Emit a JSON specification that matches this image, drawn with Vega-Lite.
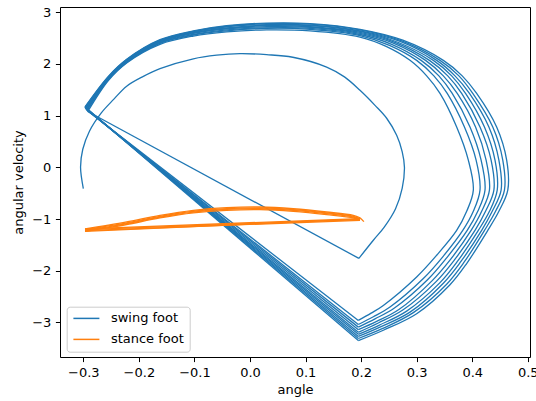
{
"$schema": "https://vega.github.io/schema/vega-lite/v6.json",
"width": 470, "height": 350,
"autosize": {"type": "none"},
"padding": {"left": 60, "top": 7, "right": 6, "bottom": 44},
"background": "white",
"config": {
  "font": "DejaVu Sans",
  "view": {"stroke": "black", "strokeWidth": 1},
  "axis": {"grid": false, "domain": false, "labelFont": "DejaVu Sans", "labelFontSize": 13, "labelColor": "#000", "tickColor": "#000", "tickSize": 4.6, "tickWidth": 1, "titleFont": "DejaVu Sans", "titleFontSize": 13, "titleFontWeight": "normal", "titleColor": "#000"}
},
"data": {"values": [
{"series":"swing foot","segment":"s0","phase":"flight","angle":-0.300,"velocity":-0.41},
{"series":"swing foot","segment":"s0","phase":"flight","angle":-0.305,"velocity":0.00},
{"series":"swing foot","segment":"s0","phase":"flight","angle":-0.301,"velocity":0.35},
{"series":"swing foot","segment":"s0","phase":"flight","angle":-0.289,"velocity":0.70},
{"series":"swing foot","segment":"s0","phase":"flight","angle":-0.268,"velocity":1.05},
{"series":"swing foot","segment":"s0","phase":"flight","angle":-0.245,"velocity":1.32},
{"series":"swing foot","segment":"s0","phase":"flight","angle":-0.222,"velocity":1.57},
{"series":"swing foot","segment":"s0","phase":"flight","angle":-0.192,"velocity":1.76},
{"series":"swing foot","segment":"s0","phase":"flight","angle":-0.162,"velocity":1.91},
{"series":"swing foot","segment":"s0","phase":"flight","angle":-0.102,"velocity":2.10},
{"series":"swing foot","segment":"s0","phase":"flight","angle":-0.060,"velocity":2.17},
{"series":"swing foot","segment":"s0","phase":"flight","angle":-0.018,"velocity":2.20},
{"series":"swing foot","segment":"s0","phase":"flight","angle":0.030,"velocity":2.18},
{"series":"swing foot","segment":"s0","phase":"flight","angle":0.077,"velocity":2.13},
{"series":"swing foot","segment":"s0","phase":"flight","angle":0.138,"velocity":1.94},
{"series":"swing foot","segment":"s0","phase":"flight","angle":0.170,"velocity":1.75},
{"series":"swing foot","segment":"s0","phase":"flight","angle":0.198,"velocity":1.49},
{"series":"swing foot","segment":"s0","phase":"flight","angle":0.225,"velocity":1.20},
{"series":"swing foot","segment":"s0","phase":"flight","angle":0.246,"velocity":0.95},
{"series":"swing foot","segment":"s0","phase":"flight","angle":0.264,"velocity":0.62},
{"series":"swing foot","segment":"s0","phase":"flight","angle":0.274,"velocity":0.30},
{"series":"swing foot","segment":"s0","phase":"flight","angle":0.278,"velocity":0.00},
{"series":"swing foot","segment":"s0","phase":"flight","angle":0.274,"velocity":-0.40},
{"series":"swing foot","segment":"s0","phase":"flight","angle":0.262,"velocity":-0.80},
{"series":"swing foot","segment":"s0","phase":"flight","angle":0.242,"velocity":-1.15},
{"series":"swing foot","segment":"s0","phase":"flight","angle":0.222,"velocity":-1.41},
{"series":"swing foot","segment":"s0","phase":"flight","angle":0.196,"velocity":-1.76},
{"series":"swing foot","segment":"j1","phase":"impact","angle":0.196,"velocity":-1.76},
{"series":"swing foot","segment":"j1","phase":"impact","angle":-0.292,"velocity":1.08},

{"series":"swing foot","segment":"s1","phase":"flight","angle":-0.292,"velocity":1.08},
{"series":"swing foot","segment":"s1","phase":"flight","angle":-0.255,"velocity":1.68},
{"series":"swing foot","segment":"s1","phase":"flight","angle":-0.222,"velocity":2.02},
{"series":"swing foot","segment":"s1","phase":"flight","angle":-0.162,"velocity":2.38},
{"series":"swing foot","segment":"s1","phase":"flight","angle":-0.102,"velocity":2.54},
{"series":"swing foot","segment":"s1","phase":"flight","angle":-0.042,"velocity":2.62},
{"series":"swing foot","segment":"s1","phase":"flight","angle":0.030,"velocity":2.66},
{"series":"swing foot","segment":"s1","phase":"flight","angle":0.108,"velocity":2.64},
{"series":"swing foot","segment":"s1","phase":"flight","angle":0.198,"velocity":2.52},
{"series":"swing foot","segment":"s1","phase":"flight","angle":0.245,"velocity":2.34},
{"series":"swing foot","segment":"s1","phase":"flight","angle":0.288,"velocity":2.07},
{"series":"swing foot","segment":"s1","phase":"flight","angle":0.318,"velocity":1.77},
{"series":"swing foot","segment":"s1","phase":"flight","angle":0.342,"velocity":1.43},
{"series":"swing foot","segment":"s1","phase":"flight","angle":0.372,"velocity":0.78},
{"series":"swing foot","segment":"s1","phase":"flight","angle":0.393,"velocity":0.14},
{"series":"swing foot","segment":"s1","phase":"flight","angle":0.402,"velocity":-0.44},
{"series":"swing foot","segment":"s1","phase":"flight","angle":0.390,"velocity":-0.85},
{"series":"swing foot","segment":"s1","phase":"flight","angle":0.372,"velocity":-1.22},
{"series":"swing foot","segment":"s1","phase":"flight","angle":0.336,"velocity":-1.70},
{"series":"swing foot","segment":"s1","phase":"flight","angle":0.300,"velocity":-2.12},
{"series":"swing foot","segment":"s1","phase":"flight","angle":0.240,"velocity":-2.67},
{"series":"swing foot","segment":"s1","phase":"flight","angle":0.218,"velocity":-2.82},
{"series":"swing foot","segment":"s1","phase":"flight","angle":0.195,"velocity":-2.96},
{"series":"swing foot","segment":"j2","phase":"impact","angle":0.195,"velocity":-2.96},
{"series":"swing foot","segment":"j2","phase":"impact","angle":-0.293,"velocity":1.10},

{"series":"swing foot","segment":"s2","phase":"flight","angle":-0.293,"velocity":1.10},
{"series":"swing foot","segment":"s2","phase":"flight","angle":-0.255,"velocity":1.70},
{"series":"swing foot","segment":"s2","phase":"flight","angle":-0.222,"velocity":2.03},
{"series":"swing foot","segment":"s2","phase":"flight","angle":-0.162,"velocity":2.40},
{"series":"swing foot","segment":"s2","phase":"flight","angle":-0.102,"velocity":2.56},
{"series":"swing foot","segment":"s2","phase":"flight","angle":-0.042,"velocity":2.64},
{"series":"swing foot","segment":"s2","phase":"flight","angle":0.030,"velocity":2.69},
{"series":"swing foot","segment":"s2","phase":"flight","angle":0.108,"velocity":2.67},
{"series":"swing foot","segment":"s2","phase":"flight","angle":0.198,"velocity":2.55},
{"series":"swing foot","segment":"s2","phase":"flight","angle":0.251,"velocity":2.36},
{"series":"swing foot","segment":"s2","phase":"flight","angle":0.300,"velocity":2.07},
{"series":"swing foot","segment":"s2","phase":"flight","angle":0.331,"velocity":1.77},
{"series":"swing foot","segment":"s2","phase":"flight","angle":0.355,"velocity":1.43},
{"series":"swing foot","segment":"s2","phase":"flight","angle":0.386,"velocity":0.78},
{"series":"swing foot","segment":"s2","phase":"flight","angle":0.407,"velocity":0.14},
{"series":"swing foot","segment":"s2","phase":"flight","angle":0.414,"velocity":-0.44},
{"series":"swing foot","segment":"s2","phase":"flight","angle":0.402,"velocity":-0.85},
{"series":"swing foot","segment":"s2","phase":"flight","angle":0.383,"velocity":-1.22},
{"series":"swing foot","segment":"s2","phase":"flight","angle":0.347,"velocity":-1.73},
{"series":"swing foot","segment":"s2","phase":"flight","angle":0.312,"velocity":-2.15},
{"series":"swing foot","segment":"s2","phase":"flight","angle":0.252,"velocity":-2.70},
{"series":"swing foot","segment":"s2","phase":"flight","angle":0.222,"velocity":-2.89},
{"series":"swing foot","segment":"s2","phase":"flight","angle":0.195,"velocity":-3.04},
{"series":"swing foot","segment":"j3","phase":"impact","angle":0.195,"velocity":-3.04},
{"series":"swing foot","segment":"j3","phase":"impact","angle":-0.294,"velocity":1.11},

{"series":"swing foot","segment":"s3","phase":"flight","angle":-0.294,"velocity":1.11},
{"series":"swing foot","segment":"s3","phase":"flight","angle":-0.255,"velocity":1.71},
{"series":"swing foot","segment":"s3","phase":"flight","angle":-0.222,"velocity":2.04},
{"series":"swing foot","segment":"s3","phase":"flight","angle":-0.162,"velocity":2.41},
{"series":"swing foot","segment":"s3","phase":"flight","angle":-0.102,"velocity":2.57},
{"series":"swing foot","segment":"s3","phase":"flight","angle":-0.042,"velocity":2.66},
{"series":"swing foot","segment":"s3","phase":"flight","angle":0.030,"velocity":2.70},
{"series":"swing foot","segment":"s3","phase":"flight","angle":0.108,"velocity":2.69},
{"series":"swing foot","segment":"s3","phase":"flight","angle":0.198,"velocity":2.57},
{"series":"swing foot","segment":"s3","phase":"flight","angle":0.255,"velocity":2.38},
{"series":"swing foot","segment":"s3","phase":"flight","angle":0.308,"velocity":2.07},
{"series":"swing foot","segment":"s3","phase":"flight","angle":0.340,"velocity":1.77},
{"series":"swing foot","segment":"s3","phase":"flight","angle":0.364,"velocity":1.43},
{"series":"swing foot","segment":"s3","phase":"flight","angle":0.396,"velocity":0.78},
{"series":"swing foot","segment":"s3","phase":"flight","angle":0.416,"velocity":0.14},
{"series":"swing foot","segment":"s3","phase":"flight","angle":0.423,"velocity":-0.44},
{"series":"swing foot","segment":"s3","phase":"flight","angle":0.410,"velocity":-0.85},
{"series":"swing foot","segment":"s3","phase":"flight","angle":0.391,"velocity":-1.22},
{"series":"swing foot","segment":"s3","phase":"flight","angle":0.354,"velocity":-1.75},
{"series":"swing foot","segment":"s3","phase":"flight","angle":0.320,"velocity":-2.17},
{"series":"swing foot","segment":"s3","phase":"flight","angle":0.260,"velocity":-2.72},
{"series":"swing foot","segment":"s3","phase":"flight","angle":0.225,"velocity":-2.93},
{"series":"swing foot","segment":"s3","phase":"flight","angle":0.195,"velocity":-3.09},
{"series":"swing foot","segment":"j4","phase":"impact","angle":0.195,"velocity":-3.09},
{"series":"swing foot","segment":"j4","phase":"impact","angle":-0.294,"velocity":1.12},

{"series":"swing foot","segment":"s4","phase":"flight","angle":-0.294,"velocity":1.12},
{"series":"swing foot","segment":"s4","phase":"flight","angle":-0.255,"velocity":1.72},
{"series":"swing foot","segment":"s4","phase":"flight","angle":-0.222,"velocity":2.05},
{"series":"swing foot","segment":"s4","phase":"flight","angle":-0.162,"velocity":2.42},
{"series":"swing foot","segment":"s4","phase":"flight","angle":-0.102,"velocity":2.59},
{"series":"swing foot","segment":"s4","phase":"flight","angle":-0.042,"velocity":2.68},
{"series":"swing foot","segment":"s4","phase":"flight","angle":0.030,"velocity":2.72},
{"series":"swing foot","segment":"s4","phase":"flight","angle":0.108,"velocity":2.71},
{"series":"swing foot","segment":"s4","phase":"flight","angle":0.198,"velocity":2.59},
{"series":"swing foot","segment":"s4","phase":"flight","angle":0.259,"velocity":2.40},
{"series":"swing foot","segment":"s4","phase":"flight","angle":0.316,"velocity":2.07},
{"series":"swing foot","segment":"s4","phase":"flight","angle":0.348,"velocity":1.77},
{"series":"swing foot","segment":"s4","phase":"flight","angle":0.373,"velocity":1.43},
{"series":"swing foot","segment":"s4","phase":"flight","angle":0.406,"velocity":0.78},
{"series":"swing foot","segment":"s4","phase":"flight","angle":0.425,"velocity":0.14},
{"series":"swing foot","segment":"s4","phase":"flight","angle":0.431,"velocity":-0.44},
{"series":"swing foot","segment":"s4","phase":"flight","angle":0.417,"velocity":-0.85},
{"series":"swing foot","segment":"s4","phase":"flight","angle":0.398,"velocity":-1.22},
{"series":"swing foot","segment":"s4","phase":"flight","angle":0.361,"velocity":-1.78},
{"series":"swing foot","segment":"s4","phase":"flight","angle":0.328,"velocity":-2.19},
{"series":"swing foot","segment":"s4","phase":"flight","angle":0.268,"velocity":-2.75},
{"series":"swing foot","segment":"s4","phase":"flight","angle":0.228,"velocity":-2.98},
{"series":"swing foot","segment":"s4","phase":"flight","angle":0.195,"velocity":-3.14},
{"series":"swing foot","segment":"j5","phase":"impact","angle":0.195,"velocity":-3.14},
{"series":"swing foot","segment":"j5","phase":"impact","angle":-0.295,"velocity":1.13},

{"series":"swing foot","segment":"s5","phase":"flight","angle":-0.295,"velocity":1.13},
{"series":"swing foot","segment":"s5","phase":"flight","angle":-0.255,"velocity":1.73},
{"series":"swing foot","segment":"s5","phase":"flight","angle":-0.222,"velocity":2.06},
{"series":"swing foot","segment":"s5","phase":"flight","angle":-0.162,"velocity":2.43},
{"series":"swing foot","segment":"s5","phase":"flight","angle":-0.102,"velocity":2.60},
{"series":"swing foot","segment":"s5","phase":"flight","angle":-0.042,"velocity":2.69},
{"series":"swing foot","segment":"s5","phase":"flight","angle":0.030,"velocity":2.74},
{"series":"swing foot","segment":"s5","phase":"flight","angle":0.108,"velocity":2.72},
{"series":"swing foot","segment":"s5","phase":"flight","angle":0.198,"velocity":2.61},
{"series":"swing foot","segment":"s5","phase":"flight","angle":0.263,"velocity":2.41},
{"series":"swing foot","segment":"s5","phase":"flight","angle":0.323,"velocity":2.07},
{"series":"swing foot","segment":"s5","phase":"flight","angle":0.356,"velocity":1.77},
{"series":"swing foot","segment":"s5","phase":"flight","angle":0.381,"velocity":1.43},
{"series":"swing foot","segment":"s5","phase":"flight","angle":0.414,"velocity":0.78},
{"series":"swing foot","segment":"s5","phase":"flight","angle":0.434,"velocity":0.14},
{"series":"swing foot","segment":"s5","phase":"flight","angle":0.439,"velocity":-0.44},
{"series":"swing foot","segment":"s5","phase":"flight","angle":0.424,"velocity":-0.85},
{"series":"swing foot","segment":"s5","phase":"flight","angle":0.405,"velocity":-1.22},
{"series":"swing foot","segment":"s5","phase":"flight","angle":0.368,"velocity":-1.79},
{"series":"swing foot","segment":"s5","phase":"flight","angle":0.335,"velocity":-2.21},
{"series":"swing foot","segment":"s5","phase":"flight","angle":0.275,"velocity":-2.76},
{"series":"swing foot","segment":"s5","phase":"flight","angle":0.231,"velocity":-3.01},
{"series":"swing foot","segment":"s5","phase":"flight","angle":0.195,"velocity":-3.19},
{"series":"swing foot","segment":"j6","phase":"impact","angle":0.195,"velocity":-3.19},
{"series":"swing foot","segment":"j6","phase":"impact","angle":-0.296,"velocity":1.14},

{"series":"swing foot","segment":"s6","phase":"flight","angle":-0.296,"velocity":1.14},
{"series":"swing foot","segment":"s6","phase":"flight","angle":-0.255,"velocity":1.74},
{"series":"swing foot","segment":"s6","phase":"flight","angle":-0.222,"velocity":2.07},
{"series":"swing foot","segment":"s6","phase":"flight","angle":-0.162,"velocity":2.44},
{"series":"swing foot","segment":"s6","phase":"flight","angle":-0.102,"velocity":2.61},
{"series":"swing foot","segment":"s6","phase":"flight","angle":-0.042,"velocity":2.70},
{"series":"swing foot","segment":"s6","phase":"flight","angle":0.030,"velocity":2.75},
{"series":"swing foot","segment":"s6","phase":"flight","angle":0.108,"velocity":2.74},
{"series":"swing foot","segment":"s6","phase":"flight","angle":0.198,"velocity":2.63},
{"series":"swing foot","segment":"s6","phase":"flight","angle":0.266,"velocity":2.42},
{"series":"swing foot","segment":"s6","phase":"flight","angle":0.330,"velocity":2.07},
{"series":"swing foot","segment":"s6","phase":"flight","angle":0.363,"velocity":1.77},
{"series":"swing foot","segment":"s6","phase":"flight","angle":0.388,"velocity":1.43},
{"series":"swing foot","segment":"s6","phase":"flight","angle":0.422,"velocity":0.78},
{"series":"swing foot","segment":"s6","phase":"flight","angle":0.441,"velocity":0.14},
{"series":"swing foot","segment":"s6","phase":"flight","angle":0.445,"velocity":-0.44},
{"series":"swing foot","segment":"s6","phase":"flight","angle":0.431,"velocity":-0.85},
{"series":"swing foot","segment":"s6","phase":"flight","angle":0.411,"velocity":-1.22},
{"series":"swing foot","segment":"s6","phase":"flight","angle":0.374,"velocity":-1.81},
{"series":"swing foot","segment":"s6","phase":"flight","angle":0.342,"velocity":-2.23},
{"series":"swing foot","segment":"s6","phase":"flight","angle":0.282,"velocity":-2.78},
{"series":"swing foot","segment":"s6","phase":"flight","angle":0.233,"velocity":-3.05},
{"series":"swing foot","segment":"s6","phase":"flight","angle":0.195,"velocity":-3.23},
{"series":"swing foot","segment":"j7","phase":"impact","angle":0.195,"velocity":-3.23},
{"series":"swing foot","segment":"j7","phase":"impact","angle":-0.296,"velocity":1.15},

{"series":"swing foot","segment":"s7","phase":"flight","angle":-0.296,"velocity":1.15},
{"series":"swing foot","segment":"s7","phase":"flight","angle":-0.255,"velocity":1.74},
{"series":"swing foot","segment":"s7","phase":"flight","angle":-0.222,"velocity":2.08},
{"series":"swing foot","segment":"s7","phase":"flight","angle":-0.162,"velocity":2.45},
{"series":"swing foot","segment":"s7","phase":"flight","angle":-0.102,"velocity":2.62},
{"series":"swing foot","segment":"s7","phase":"flight","angle":-0.042,"velocity":2.72},
{"series":"swing foot","segment":"s7","phase":"flight","angle":0.030,"velocity":2.76},
{"series":"swing foot","segment":"s7","phase":"flight","angle":0.108,"velocity":2.75},
{"series":"swing foot","segment":"s7","phase":"flight","angle":0.198,"velocity":2.64},
{"series":"swing foot","segment":"s7","phase":"flight","angle":0.269,"velocity":2.44},
{"series":"swing foot","segment":"s7","phase":"flight","angle":0.336,"velocity":2.07},
{"series":"swing foot","segment":"s7","phase":"flight","angle":0.369,"velocity":1.77},
{"series":"swing foot","segment":"s7","phase":"flight","angle":0.395,"velocity":1.43},
{"series":"swing foot","segment":"s7","phase":"flight","angle":0.430,"velocity":0.78},
{"series":"swing foot","segment":"s7","phase":"flight","angle":0.448,"velocity":0.14},
{"series":"swing foot","segment":"s7","phase":"flight","angle":0.452,"velocity":-0.44},
{"series":"swing foot","segment":"s7","phase":"flight","angle":0.436,"velocity":-0.85},
{"series":"swing foot","segment":"s7","phase":"flight","angle":0.417,"velocity":-1.22},
{"series":"swing foot","segment":"s7","phase":"flight","angle":0.379,"velocity":-1.83},
{"series":"swing foot","segment":"s7","phase":"flight","angle":0.348,"velocity":-2.24},
{"series":"swing foot","segment":"s7","phase":"flight","angle":0.288,"velocity":-2.80},
{"series":"swing foot","segment":"s7","phase":"flight","angle":0.236,"velocity":-3.08},
{"series":"swing foot","segment":"s7","phase":"flight","angle":0.195,"velocity":-3.27},
{"series":"swing foot","segment":"j8","phase":"impact","angle":0.195,"velocity":-3.27},
{"series":"swing foot","segment":"j8","phase":"impact","angle":-0.297,"velocity":1.16},

{"series":"swing foot","segment":"s8","phase":"flight","angle":-0.297,"velocity":1.16},
{"series":"swing foot","segment":"s8","phase":"flight","angle":-0.255,"velocity":1.75},
{"series":"swing foot","segment":"s8","phase":"flight","angle":-0.222,"velocity":2.08},
{"series":"swing foot","segment":"s8","phase":"flight","angle":-0.162,"velocity":2.46},
{"series":"swing foot","segment":"s8","phase":"flight","angle":-0.102,"velocity":2.63},
{"series":"swing foot","segment":"s8","phase":"flight","angle":-0.042,"velocity":2.73},
{"series":"swing foot","segment":"s8","phase":"flight","angle":0.030,"velocity":2.78},
{"series":"swing foot","segment":"s8","phase":"flight","angle":0.108,"velocity":2.77},
{"series":"swing foot","segment":"s8","phase":"flight","angle":0.198,"velocity":2.66},
{"series":"swing foot","segment":"s8","phase":"flight","angle":0.272,"velocity":2.45},
{"series":"swing foot","segment":"s8","phase":"flight","angle":0.342,"velocity":2.07},
{"series":"swing foot","segment":"s8","phase":"flight","angle":0.376,"velocity":1.77},
{"series":"swing foot","segment":"s8","phase":"flight","angle":0.401,"velocity":1.43},
{"series":"swing foot","segment":"s8","phase":"flight","angle":0.437,"velocity":0.78},
{"series":"swing foot","segment":"s8","phase":"flight","angle":0.455,"velocity":0.14},
{"series":"swing foot","segment":"s8","phase":"flight","angle":0.458,"velocity":-0.44},
{"series":"swing foot","segment":"s8","phase":"flight","angle":0.442,"velocity":-0.85},
{"series":"swing foot","segment":"s8","phase":"flight","angle":0.422,"velocity":-1.22},
{"series":"swing foot","segment":"s8","phase":"flight","angle":0.385,"velocity":-1.84},
{"series":"swing foot","segment":"s8","phase":"flight","angle":0.354,"velocity":-2.26},
{"series":"swing foot","segment":"s8","phase":"flight","angle":0.294,"velocity":-2.81},
{"series":"swing foot","segment":"s8","phase":"flight","angle":0.238,"velocity":-3.12},
{"series":"swing foot","segment":"s8","phase":"flight","angle":0.195,"velocity":-3.31},
{"series":"swing foot","segment":"j9","phase":"impact","angle":0.195,"velocity":-3.31},
{"series":"swing foot","segment":"j9","phase":"impact","angle":-0.297,"velocity":1.17},

{"series":"swing foot","segment":"s9","phase":"flight","angle":-0.297,"velocity":1.17},
{"series":"swing foot","segment":"s9","phase":"flight","angle":-0.255,"velocity":1.76},
{"series":"swing foot","segment":"s9","phase":"flight","angle":-0.222,"velocity":2.09},
{"series":"swing foot","segment":"s9","phase":"flight","angle":-0.162,"velocity":2.47},
{"series":"swing foot","segment":"s9","phase":"flight","angle":-0.102,"velocity":2.64},
{"series":"swing foot","segment":"s9","phase":"flight","angle":-0.042,"velocity":2.74},
{"series":"swing foot","segment":"s9","phase":"flight","angle":0.030,"velocity":2.79},
{"series":"swing foot","segment":"s9","phase":"flight","angle":0.108,"velocity":2.78},
{"series":"swing foot","segment":"s9","phase":"flight","angle":0.198,"velocity":2.67},
{"series":"swing foot","segment":"s9","phase":"flight","angle":0.275,"velocity":2.46},
{"series":"swing foot","segment":"s9","phase":"flight","angle":0.348,"velocity":2.07},
{"series":"swing foot","segment":"s9","phase":"flight","angle":0.382,"velocity":1.77},
{"series":"swing foot","segment":"s9","phase":"flight","angle":0.408,"velocity":1.43},
{"series":"swing foot","segment":"s9","phase":"flight","angle":0.444,"velocity":0.78},
{"series":"swing foot","segment":"s9","phase":"flight","angle":0.462,"velocity":0.14},
{"series":"swing foot","segment":"s9","phase":"flight","angle":0.464,"velocity":-0.44},
{"series":"swing foot","segment":"s9","phase":"flight","angle":0.448,"velocity":-0.85},
{"series":"swing foot","segment":"s9","phase":"flight","angle":0.428,"velocity":-1.22},
{"series":"swing foot","segment":"s9","phase":"flight","angle":0.390,"velocity":-1.86},
{"series":"swing foot","segment":"s9","phase":"flight","angle":0.360,"velocity":-2.27},
{"series":"swing foot","segment":"s9","phase":"flight","angle":0.300,"velocity":-2.83},
{"series":"swing foot","segment":"s9","phase":"flight","angle":0.240,"velocity":-3.15},
{"series":"swing foot","segment":"s9","phase":"flight","angle":0.195,"velocity":-3.35},
{"series":"swing foot","segment":"j10","phase":"impact","angle":0.195,"velocity":-3.35},
{"series":"swing foot","segment":"j10","phase":"impact","angle":-0.297,"velocity":1.17},

{"series":"stance foot","segment":"u0","phase":"impact","angle":0.205,"velocity":-1.050},
{"series":"stance foot","segment":"u0","phase":"impact","angle":0.198,"velocity":-0.975},
{"series":"stance foot","segment":"t1","phase":"flight","angle":0.198,"velocity":-0.975},
{"series":"stance foot","segment":"t1","phase":"flight","angle":0.186,"velocity":-0.929},
{"series":"stance foot","segment":"t1","phase":"flight","angle":0.138,"velocity":-0.863},
{"series":"stance foot","segment":"t1","phase":"flight","angle":0.078,"velocity":-0.800},
{"series":"stance foot","segment":"t1","phase":"flight","angle":0.018,"velocity":-0.767},
{"series":"stance foot","segment":"t1","phase":"flight","angle":-0.042,"velocity":-0.780},
{"series":"stance foot","segment":"t1","phase":"flight","angle":-0.102,"velocity":-0.832},
{"series":"stance foot","segment":"t1","phase":"flight","angle":-0.162,"velocity":-0.929},
{"series":"stance foot","segment":"t1","phase":"flight","angle":-0.222,"velocity":-1.055},
{"series":"stance foot","segment":"t1","phase":"flight","angle":-0.260,"velocity":-1.125},
{"series":"stance foot","segment":"t1","phase":"flight","angle":-0.297,"velocity":-1.189},
{"series":"stance foot","segment":"u1","phase":"impact","angle":-0.297,"velocity":-1.189},
{"series":"stance foot","segment":"u1","phase":"impact","angle":0.198,"velocity":-0.992},
{"series":"stance foot","segment":"t2","phase":"flight","angle":0.198,"velocity":-0.992},
{"series":"stance foot","segment":"t2","phase":"flight","angle":0.186,"velocity":-0.946},
{"series":"stance foot","segment":"t2","phase":"flight","angle":0.138,"velocity":-0.880},
{"series":"stance foot","segment":"t2","phase":"flight","angle":0.078,"velocity":-0.817},
{"series":"stance foot","segment":"t2","phase":"flight","angle":0.018,"velocity":-0.784},
{"series":"stance foot","segment":"t2","phase":"flight","angle":-0.042,"velocity":-0.797},
{"series":"stance foot","segment":"t2","phase":"flight","angle":-0.102,"velocity":-0.849},
{"series":"stance foot","segment":"t2","phase":"flight","angle":-0.162,"velocity":-0.946},
{"series":"stance foot","segment":"t2","phase":"flight","angle":-0.222,"velocity":-1.072},
{"series":"stance foot","segment":"t2","phase":"flight","angle":-0.260,"velocity":-1.142},
{"series":"stance foot","segment":"t2","phase":"flight","angle":-0.297,"velocity":-1.206},
{"series":"stance foot","segment":"u2","phase":"impact","angle":-0.297,"velocity":-1.206},
{"series":"stance foot","segment":"u2","phase":"impact","angle":0.198,"velocity":-1.008},
{"series":"stance foot","segment":"t3","phase":"flight","angle":0.198,"velocity":-1.008},
{"series":"stance foot","segment":"t3","phase":"flight","angle":0.186,"velocity":-0.962},
{"series":"stance foot","segment":"t3","phase":"flight","angle":0.138,"velocity":-0.896},
{"series":"stance foot","segment":"t3","phase":"flight","angle":0.078,"velocity":-0.833},
{"series":"stance foot","segment":"t3","phase":"flight","angle":0.018,"velocity":-0.800},
{"series":"stance foot","segment":"t3","phase":"flight","angle":-0.042,"velocity":-0.813},
{"series":"stance foot","segment":"t3","phase":"flight","angle":-0.102,"velocity":-0.865},
{"series":"stance foot","segment":"t3","phase":"flight","angle":-0.162,"velocity":-0.962},
{"series":"stance foot","segment":"t3","phase":"flight","angle":-0.222,"velocity":-1.088},
{"series":"stance foot","segment":"t3","phase":"flight","angle":-0.260,"velocity":-1.158},
{"series":"stance foot","segment":"t3","phase":"flight","angle":-0.297,"velocity":-1.222},
{"series":"stance foot","segment":"u3","phase":"impact","angle":-0.297,"velocity":-1.222},
{"series":"stance foot","segment":"u3","phase":"impact","angle":0.198,"velocity":-1.025},
{"series":"stance foot","segment":"t4","phase":"flight","angle":0.198,"velocity":-1.025},
{"series":"stance foot","segment":"t4","phase":"flight","angle":0.186,"velocity":-0.979},
{"series":"stance foot","segment":"t4","phase":"flight","angle":0.138,"velocity":-0.913},
{"series":"stance foot","segment":"t4","phase":"flight","angle":0.078,"velocity":-0.850},
{"series":"stance foot","segment":"t4","phase":"flight","angle":0.018,"velocity":-0.817},
{"series":"stance foot","segment":"t4","phase":"flight","angle":-0.042,"velocity":-0.830},
{"series":"stance foot","segment":"t4","phase":"flight","angle":-0.102,"velocity":-0.882},
{"series":"stance foot","segment":"t4","phase":"flight","angle":-0.162,"velocity":-0.979},
{"series":"stance foot","segment":"t4","phase":"flight","angle":-0.222,"velocity":-1.105},
{"series":"stance foot","segment":"t4","phase":"flight","angle":-0.260,"velocity":-1.175},
{"series":"stance foot","segment":"t4","phase":"flight","angle":-0.297,"velocity":-1.239},
{"series":"stance foot","segment":"u4","phase":"impact","angle":-0.297,"velocity":-1.239},
{"series":"stance foot","segment":"u4","phase":"impact","angle":0.198,"velocity":-1.000}
]},
"encoding": {
  "x": {"field": "angle", "type": "quantitative", "title": "angle",
        "scale": {"domain": [-0.342, 0.504], "nice": false, "zero": false},
        "axis": {"values": [-0.3, -0.2, -0.1, 0, 0.1, 0.2, 0.3, 0.4, 0.5], "format": ".1f", "labelPadding": 4.5, "titlePadding": 4, "labelFlush": false}},
  "y": {"field": "velocity", "type": "quantitative", "title": "angular velocity",
        "scale": {"domain": [-3.668, 3.102], "nice": false, "zero": false},
        "axis": {"values": [-3, -2, -1, 0, 1, 2, 3], "format": "d", "labelPadding": 4.6, "titlePadding": 6, "labelFlush": false}},
  "color": {"field": "series", "type": "nominal",
            "scale": {"domain": ["swing foot", "stance foot"], "range": ["#1f77b4", "#ff7f0e"]},
            "legend": {"orient": "none", "legendX": 6.7, "legendY": 299.7, "title": null,
                       "symbolType": "M-1,0H4.2", "symbolSize": 100, "symbolStrokeWidth": 1.5,
                       "labelFont": "DejaVu Sans", "labelFontSize": 13, "labelColor": "#000",
                       "padding": 5.2, "rowPadding": 7, "labelOffset": 26,
                       "strokeColor": "#cccccc", "fillColor": "rgba(255,255,255,0.8)", "cornerRadius": 3}},
  "detail": {"field": "segment", "type": "nominal"},
  "order": {"value": null}
},
"layer": [
  {"transform": [{"filter": "datum.series === 'swing foot' && datum.phase === 'flight'"}], "mark": {"type": "line", "strokeWidth": 1.3, "interpolate": "catmull-rom"}},
  {"transform": [{"filter": "datum.series === 'swing foot' && datum.phase === 'impact'"}], "mark": {"type": "line", "strokeWidth": 1.3}},
  {"transform": [{"filter": "datum.series === 'stance foot' && datum.phase === 'flight'"}], "mark": {"type": "line", "strokeWidth": 1.3, "interpolate": "catmull-rom"}},
  {"transform": [{"filter": "datum.series === 'stance foot' && datum.phase === 'impact'"}], "mark": {"type": "line", "strokeWidth": 1.3}}
]
}
